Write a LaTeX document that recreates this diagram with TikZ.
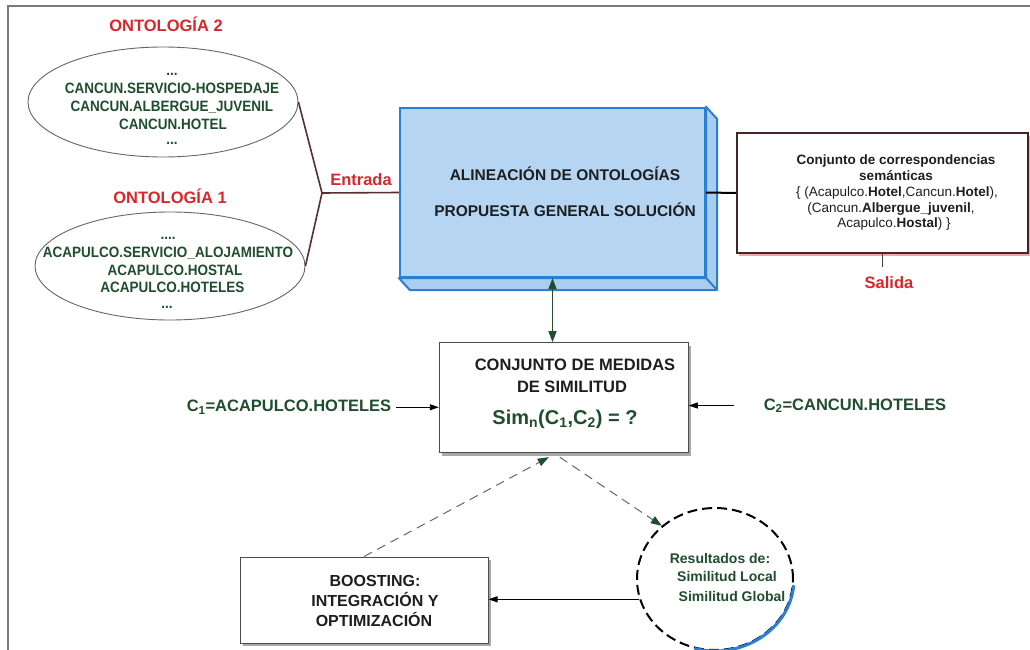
\documentclass[tikz,border=0pt]{standalone}
\usepackage{fontspec}
\setmainfont{Liberation Sans}
\newfontfamily\narrowsans[FakeStretch=0.9]{Liberation Sans}
\usetikzlibrary{arrows.meta,shapes.geometric,shadows}

\definecolor{ontred}{HTML}{D9262B}
\definecolor{ontgreen}{HTML}{1F4D2E}
\definecolor{brownline}{HTML}{5A2E2E}
\definecolor{boxblue}{HTML}{2B7FD0}
\definecolor{fillblue}{HTML}{B5D5F2}
\definecolor{framegray}{HTML}{7A7A7A}
\definecolor{shadowgray}{HTML}{A8A8A8}
\definecolor{salmon}{HTML}{F2A7A7}
\definecolor{darktext}{HTML}{1E1E1E}

\newcommand\fsz[1]{\fontsize{#1}{#1}\selectfont}

\begin{document}
\begin{tikzpicture}[x=1pt,y=-1pt,
  txt/.style={inner sep=0pt, anchor=base},
  ontline/.style={txt, text=ontgreen, font=\narrowsans\fsz{15}\bfseries},
  redlabel/.style={txt, text=ontred, font=\fsz{16.5}\bfseries},
  headtxt/.style={txt, text=darktext, font=\fsz{15.5}\bfseries},
  outtxt/.style={txt, text=darktext, font=\fsz{13.5}},
  ctxt/.style={txt, text=ontgreen, font=\fsz{16.5}\bfseries},
  restxt/.style={txt, text=ontgreen, font=\fsz{14}\bfseries},
  ontcloud/.style={ellipse, draw=black!60, line width=0.9pt, inner sep=0pt},
  plainbox/.style={rectangle, draw=black!70, line width=1pt, fill=white, inner sep=0pt,
    drop shadow={shadow xshift=3pt, shadow yshift=-3pt, fill=shadowgray, opacity=1}},
  dashline/.style={draw=black!60, line width=1pt, dash pattern=on 9pt off 6pt},
  greentip/.tip={Triangle[length=11pt, width=8pt, color=ontgreen]},
  blacktip/.tip={Triangle[length=9pt, width=6pt, color=black]}
]
\useasboundingbox (0,0) rectangle (1030,650);
\fill[white] (0,0) rectangle (1030,650);

% page frame
\draw[framegray, line width=2pt] (8,651) -- (8,6) -- (1031,6);

% ---- input ontologies ----
\node[redlabel] (t2) at (166,32) {ONTOLOGÍA 2};
\node[ontcloud, minimum width=270, minimum height=110] (ont2) at (163,102) {};
\node[ontline] (o2a) at (172,75.5) {...};
\node[ontline] (o2b) at (172,93.3) {CANCUN.SERVICIO-HOSPEDAJE};
\node[ontline] (o2c) at (172,111.7) {CANCUN.ALBERGUE\_JUVENIL};
\node[ontline] (o2d) at (173,130) {CANCUN.HOTEL};
\node[ontline] (o2e) at (172,144) {...};

\node[redlabel] (t1) at (170,203) {ONTOLOGÍA 1};
\node[ontcloud, minimum width=270, minimum height=108] (ont1) at (170,266) {};
\node[ontline] (o1a) at (168,239.5) {....};
\node[ontline] (o1b) at (168,257.3) {ACAPULCO.SERVICIO\_ALOJAMIENTO};
\node[ontline] (o1c) at (175,275.3) {ACAPULCO.HOSTAL};
\node[ontline] (o1d) at (172.5,292.7) {ACAPULCO.HOTELES};
\node[ontline] (o1e) at (167,308) {...};

% ---- alignment block (3D box) ----
\node[draw=boxblue, fill=fillblue, line width=2.2pt, minimum width=305, minimum height=169,
      inner sep=0pt] (align) at (552.5,192.5) {};
\filldraw[fill=fillblue!92!boxblue, draw=boxblue, line width=2pt, line join=round]
  (align.north east) -- ++(11,12) -- ([shift={(11,12)}]align.south east)
  -- ([shift={(11,12)}]align.south west) -- (align.south west)
  -- (align.south east) -- cycle;
\draw[boxblue, line width=2pt] (align.south east) -- ([shift={(11,12)}]align.south east);
\node[headtxt] (al1) at (565,180.7) {ALINEACIÓN DE ONTOLOGÍAS};
\node[headtxt] (al2) at (565,216) {PROPUESTA GENERAL SOLUCIÓN};

% ---- input fork ----
\coordinate (fork) at (322,193);
\draw[brownline, line width=1.6pt, line join=round] (ont2.east) -- (fork) -- (ont1.east);
\draw[brownline, line width=1.6pt] (fork) -- (align.west);
\node[redlabel] (entrada) at (361,185) {Entrada};

% ---- output ----
\node[rectangle, draw=brownline!80!black, line width=2pt, fill=white, inner sep=0pt,
      minimum width=291, minimum height=120,
      drop shadow={shadow xshift=2pt, shadow yshift=-3pt, fill=salmon, opacity=1}]
      (out) at (882.5,193) {};
\node[outtxt] (r1) at (896,164.5) {\bfseries Conjunto de correspondencias};
\node[outtxt] (r2) at (896,180.5) {\bfseries semánticas};
\node[outtxt] (r3) at (897,196.5) {\{ (Acapulco.\textbf{Hotel},Cancun.\textbf{Hotel}),};
\node[outtxt] (r4) at (891,212) {(Cancun.\textbf{Albergue\_juvenil},};
\node[outtxt] (r5) at (894,227.5) {Acapulco.\textbf{Hostal}) \}};
\draw[black, line width=2pt] (align.east) -- (out.west);
\coordinate (saltick) at (882.5,267);
\draw[black!75, line width=1pt] (out.south) -- (saltick);
\node[redlabel] (salida) at (889,288) {Salida};

% ---- similarity measures ----
\node[plainbox, minimum width=249, minimum height=110] (sim) at (563.8,397.7) {};
\node[headtxt, font=\fsz{16.5}\bfseries] (s1) at (575,370) {CONJUNTO DE MEDIDAS};
\node[headtxt, font=\fsz{16.5}\bfseries] (s2) at (572,392.7) {DE SIMILITUD};
\node[txt, text=ontgreen, font=\fsz{20}\bfseries] (s3) at (565,424)
  {Sim\textsubscript{n}(C\textsubscript{1},C\textsubscript{2}) = ?};
\draw[ontgreen, line width=1.2pt, greentip-greentip] (align.south) -- (align.south |- sim.north);

\node[ctxt] (c1) at (289,411.7) {C\textsubscript{1}=ACAPULCO.HOTELES};
\node[ctxt] (c2) at (855,410) {C\textsubscript{2}=CANCUN.HOTELES};
\draw[black, line width=0.9pt, -blacktip] ([xshift=5pt]c1.east) -- (c1.east -| sim.west);
\draw[black, line width=0.9pt, -blacktip] ([xshift=-30pt]c2.west) -- (c2.west -| sim.east);

% ---- boosting and results ----
\node[plainbox, minimum width=248, minimum height=86] (boost) at (364,600) {};
\node[headtxt, font=\fsz{16}\bfseries] (b1) at (375,586) {BOOSTING:};
\node[headtxt, font=\fsz{16}\bfseries] (b2) at (375,606) {INTEGRACIÓN Y};
\node[headtxt, font=\fsz{16}\bfseries] (b3) at (374,626) {OPTIMIZACIÓN};

\node[ellipse, draw=black, line width=2pt, dash pattern=on 10pt off 5pt, fill=white,
      minimum width=156, minimum height=142, inner sep=0pt] (res) at (715,579) {};
\draw[boxblue, line width=3pt]
  ([shift={(5:79 and 72)}]res.center) arc[start angle=5, end angle=105, x radius=79, y radius=72];
\node[restxt] (q1) at (720,563) {Resultados de:};
\node[restxt] (q2) at (727,581.7) {Similitud Local};
\node[restxt] (q3) at (732,601) {Similitud Global};

\draw[dashline, -greentip] (boost.north) -- ([xshift=-15pt, yshift=-4pt]sim.south);
\draw[dashline, -greentip] ([xshift=-4pt, yshift=-4pt]sim.south) -- (res.135);
\draw[black, line width=0.9pt, -blacktip] (res.195) -- (res.195 -| boost.east);
\end{tikzpicture}
\end{document}
